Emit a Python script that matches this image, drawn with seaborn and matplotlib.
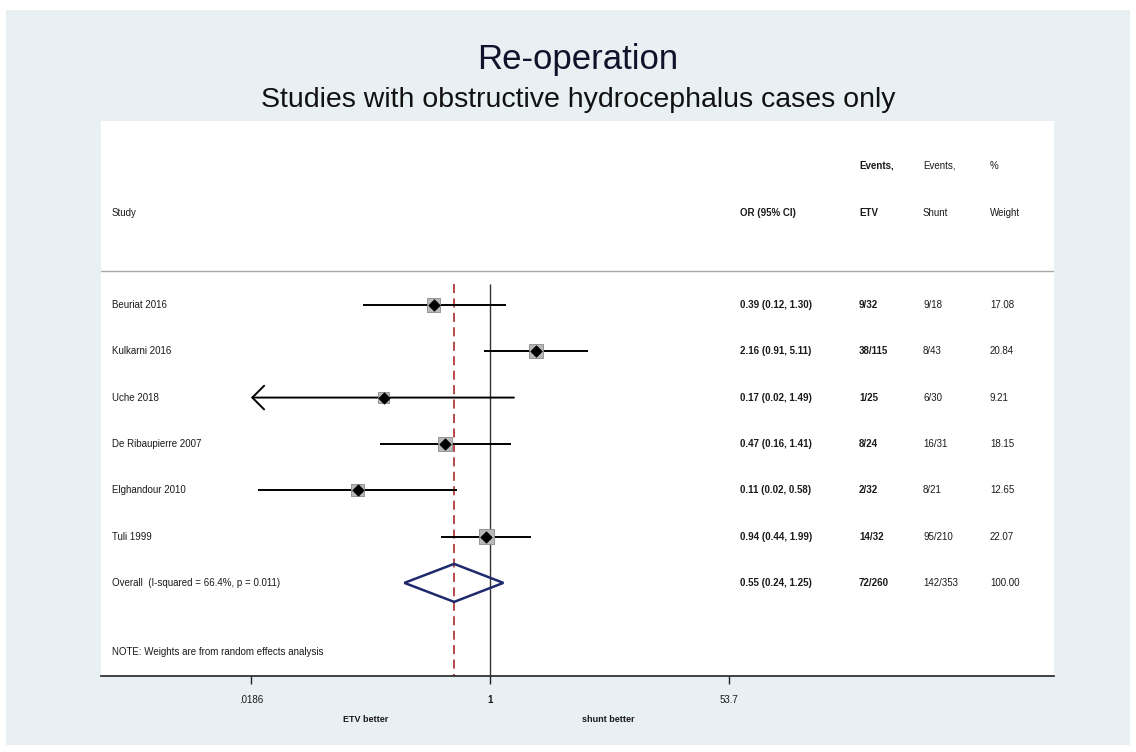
import numpy as np
import pandas as pd
import matplotlib
matplotlib.use("Agg")
import matplotlib.pyplot as plt
from matplotlib.patches import Rectangle, Polygon
from matplotlib.transforms import blended_transform_factory
import seaborn as sns

# ---- data ---------------------------------------------------------------
studies = ["Beuriat 2016", "Kulkarni 2016", "Uche 2018", "De Ribaupierre 2007",
           "Elghandour 2010", "Tuli 1999"]
odds_ratio = [0.39, 2.16, 0.17, 0.47, 0.11, 0.94]
ci_low = [0.12, 0.91, 0.018, 0.16, 0.021, 0.44]
ci_high = [1.30, 5.11, 1.49, 1.41, 0.58, 1.99]
events_etv = ["9/32", "38/115", "1/25", "8/24", "2/32", "14/32"]
events_shunt = ["9/18", "8/43", "6/30", "16/31", "8/21", "95/210"]
weights = [17.08, 20.84, 9.21, 18.15, 12.65, 22.07]

overall_label = "Overall  (I-squared = 66.4%, p = 0.011)"
overall_or = 0.55
overall_low = 0.24
overall_high = 1.25
overall_etv = "72/260"
overall_shunt = "142/353"
overall_weight = 100.00

tick_values = [0.0186, 1, 53.7]
tick_labels = [".0186", "1", "53.7"]

title = "Re-operation"
subtitle = "Studies with obstructive hydrocephalus cases only"
note = "NOTE: Weights are from random effects analysis"

df = pd.DataFrame({"study": studies, "or": odds_ratio, "low": ci_low,
                   "high": ci_high, "weight": weights})
df["row"] = np.arange(len(df))
overall_row = len(df)

# ---- style --------------------------------------------------------------
sns.set_style("white")
plt.rcParams["font.family"] = ["Liberation Sans", "DejaVu Sans"]
txt_col = "#1a1a1a"
fs = 7

W, H = 1136, 752
fig = plt.figure(figsize=(W / 100, H / 100), dpi=100)
fig.patch.set_facecolor("white")
fig.add_artist(Rectangle((6 / W, 7 / H), (W - 12) / W, (H - 17) / H,
                         transform=fig.transFigure, facecolor="#e8f0f3",
                         edgecolor="none", zorder=0))

# plot panel
left_px, right_px, top_px, bot_px = 101, 1054, 121, 676
ax = fig.add_axes([left_px / W, (H - bot_px) / H,
                   (right_px - left_px) / W, (bot_px - top_px) / H])
ax.set_facecolor("white")

null_px, px_per_ln = 490, 60.0
ax.set_xscale("log")
ax.set_xlim(np.exp((left_px - null_px) / px_per_ln),
            np.exp((right_px - null_px) / px_per_ln))
ax.set_ylim(8.01, -3.97)

xmin_tick = min(tick_values)

# reference lines
ax.vlines(1, -0.45, 8.01, color="#333333", lw=1.0, zorder=2)
ax.vlines(overall_or, -0.45, 8.01, color="#b23a3a", lw=1.3,
          linestyles=(0, (5, 3)), zorder=2)

# confidence intervals
for _, r in df.iterrows():
    if r["low"] < xmin_tick:
        ax.annotate("", xy=(xmin_tick, r["row"]), xytext=(r["high"], r["row"]),
                    arrowprops=dict(arrowstyle="->,head_length=0.85,head_width=0.85",
                                    lw=1.4, color="black", shrinkA=0, shrinkB=0),
                    zorder=3)
    else:
        ax.hlines(r["row"], r["low"], r["high"], color="black", lw=1.4, zorder=3)

# weight boxes and point estimates
sns.scatterplot(data=df, x="or", y="row", size="weight", sizes=(70, 110),
                size_norm=(min(weights), max(weights)), marker="s",
                color="#b8b8b8", edgecolor="#8a8a8a", linewidth=0.6,
                legend=False, ax=ax, zorder=4)
sns.scatterplot(data=df, x="or", y="row", marker="D", s=34, color="black",
                edgecolor="black", linewidth=0.5, legend=False, ax=ax, zorder=5)

# pooled estimate diamond
half_h = 0.41
ax.add_patch(Polygon([(overall_low, overall_row), (overall_or, overall_row - half_h),
                      (overall_high, overall_row), (overall_or, overall_row + half_h)],
                     closed=True, fill=False, edgecolor="#1f2a6e", lw=1.8, zorder=4))

# header rule
ax.axhline(-0.73, color="#a8a8a8", lw=1.0, zorder=1)

# axis styling
for s in ["top", "left", "right"]:
    ax.spines[s].set_visible(False)
ax.spines["bottom"].set_color("#222222")
ax.spines["bottom"].set_linewidth(1.2)
ax.set_xlabel("")
ax.set_ylabel("")
ax.set_yticks([])
ax.set_xticks(tick_values)
ax.set_xticklabels(tick_labels)
ax.minorticks_off()
ax.tick_params(axis="x", which="major", bottom=True, direction="out",
               length=6, width=1.0, color="#222222", pad=8,
               labelsize=fs, labelcolor=txt_col)
ax.get_xticklabels()[1].set_fontweight("bold")

# table text
tr = blended_transform_factory(ax.transAxes, ax.transData)


def fx(px):
    return (px - left_px) / (right_px - left_px)


x_study, x_or, x_etv, x_shunt, x_wt = fx(112), fx(740), fx(859), fx(923), fx(990)


def put(x, y, s, bold=False):
    ax.text(x, y, s, transform=tr, ha="left", va="center", fontsize=fs,
            color=txt_col, fontweight="bold" if bold else "normal")


put(x_etv, -3.0, "Events,", bold=True)
put(x_shunt, -3.0, "Events,")
put(x_wt, -3.0, "%")
put(x_study, -1.99, "Study")
put(x_or, -1.99, "OR (95% CI)", bold=True)
put(x_etv, -1.99, "ETV", bold=True)
put(x_shunt, -1.99, "Shunt")
put(x_wt, -1.99, "Weight")

for i in range(len(df)):
    put(x_study, i, studies[i])
    put(x_or, i, f"{odds_ratio[i]:.2f} ({ci_low[i]:.2f}, {ci_high[i]:.2f})", bold=True)
    put(x_etv, i, events_etv[i], bold=True)
    put(x_shunt, i, events_shunt[i])
    put(x_wt, i, f"{weights[i]:.2f}")

put(x_study, overall_row, overall_label)
put(x_or, overall_row, f"{overall_or:.2f} ({overall_low:.2f}, {overall_high:.2f})", bold=True)
put(x_etv, overall_row, overall_etv, bold=True)
put(x_shunt, overall_row, overall_shunt)
put(x_wt, overall_row, f"{overall_weight:.2f}")

put(x_study, 7.5, note)

# direction labels under the axis
fig.text(366 / W, 1 - 720 / H, "ETV better", ha="center", va="center",
         fontsize=6.5, fontweight="bold", color=txt_col)
fig.text(608 / W, 1 - 720 / H, "shunt better", ha="center", va="center",
         fontsize=6.5, fontweight="bold", color=txt_col)

# titles
fig.text(578 / W, 1 - 60 / H, title, ha="center", va="center",
         fontsize=25, color="#10122a")
fig.text(578 / W, 1 - 100 / H, subtitle, ha="center", va="center",
         fontsize=20.5, color="#111111")

fig.savefig("out.png", dpi=100, facecolor="white")
